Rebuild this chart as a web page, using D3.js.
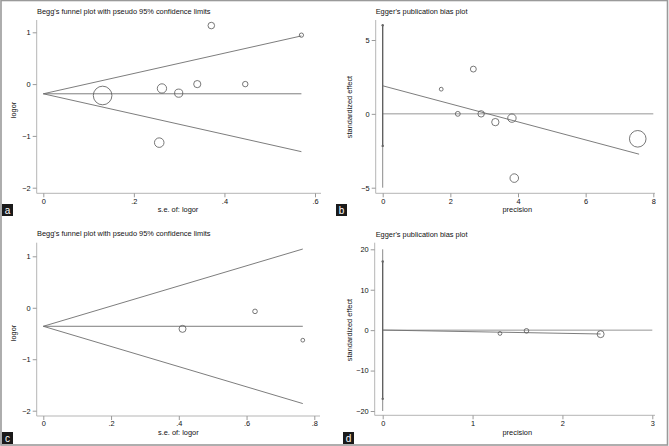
<!DOCTYPE html>
<html><head><meta charset="utf-8">
<script src="https://cdn.jsdelivr.net/npm/d3@7"></script>
<style>
html,body{margin:0;padding:0;background:#fff;}
svg{display:block;font-family:"Liberation Sans",Arial,sans-serif;}
</style></head>
<body>
<svg id="chart" width="669" height="446"></svg>
<script>
// ---------- DATA ----------
// Panel a: Begg's funnel plot
const aSE     = [0.131, 0.262, 0.299, 0.340, 0.371, 0.446, 0.570, 0.256];
const aLogOR  = [-0.22, -0.084, -0.175, 0.0, 1.13, 0.0, 0.945, -1.13];
const aPooled = -0.187;
const aSEmax  = 0.57;
const aXTicks = [0, 0.2, 0.4, 0.6];
const aXTickLabels = ["0", ".2", ".4", ".6"];
const aYTicks = [1, 0, -1, -2];
const aYTickLabels = ["1", "0", "\u22121", "\u22122"];

// Panel b: Egger's plot
const bPrec = [1.73, 2.22, 2.68, 2.91, 3.33, 3.82, 3.89, 7.54];
const bZ    = [1.67, 0.0, 3.03, 0.0, -0.56, -0.29, -4.35, -1.69];
const bFitX = [0, 7.58];
const bFitY = [1.9, -2.73];
const bCI   = [-2.17, 6.0];
const bVLine = [-5, 6.0];
const bZeroX = [0, 8];
const bXTicks = [0, 2, 4, 6, 8];
const bXTickLabels = ["0", "2", "4", "6", "8"];
const bYTicks = [5, 0, -5];
const bYTickLabels = ["5", "0", "\u22125"];

// Panel c: Begg's funnel plot
const cSE     = [0.411, 0.625, 0.766];
const cLogOR  = [-0.41, -0.07, -0.63];
const cPooled = -0.36;
const cSEmax  = 0.766;
const cXTicks = [0, 0.2, 0.4, 0.6, 0.8];
const cXTickLabels = ["0", ".2", ".4", ".6", ".8"];
const cYTicks = [1, 0, -1, -2];
const cYTickLabels = ["1", "0", "\u22121", "\u22122"];

// Panel d: Egger's plot
const dPrec = [1.305, 1.60, 2.425];
const dZ    = [-0.82, -0.17, -0.99];
const dFitX = [0, 2.425];
const dFitY = [0.02, -0.95];
const dCI   = [-17, 17];
const dVLine = [-20, 20];
const dZeroX = [0, 3];
const dXTicks = [0, 1, 2, 3];
const dXTickLabels = ["0", "1", "2", "3"];
const dYTicks = [20, 10, 0, -10, -20];
const dYTickLabels = ["20", "10", "0", "\u221210", "\u221220"];

const titles = ["Begg's funnel plot with pseudo 95% confidence limits", "Egger's publication bias plot"];
const panelLetters = ["a", "b", "c", "d"];

// ---------- DRAWING ----------
const svg = d3.select("#chart");
const AXIS = "#b5b5b5", TICK = "#9a9a9a", LINE = "#6e6e6e", CIRC = "#555";
const FS = 7.4;

function axes(g, x, y, o) {
  // axis lines
  g.append("line").attr("x1", o.axX).attr("x2", o.axX).attr("y1", o.axTop).attr("y2", o.axBot)
    .attr("stroke", AXIS).attr("stroke-width", 1);
  g.append("line").attr("x1", o.axX).attr("x2", o.axRight).attr("y1", o.axBot).attr("y2", o.axBot)
    .attr("stroke", AXIS).attr("stroke-width", 1);
  const ya = d3.axisLeft(y).tickValues(o.yTicks).tickSize(4).tickPadding(2)
    .tickFormat((d, i) => o.yLabels[i]);
  const yg = g.append("g").attr("transform", `translate(${o.axX},0)`).call(ya);
  const xa = d3.axisBottom(x).tickValues(o.xTicks).tickSize(4).tickPadding(1)
    .tickFormat((d, i) => o.xLabels[i]);
  const xg = g.append("g").attr("transform", `translate(0,${o.axBot})`).call(xa);
  [yg, xg].forEach(a => {
    a.select(".domain").remove();
    a.selectAll(".tick line").attr("stroke", TICK);
    a.selectAll(".tick text").attr("fill", "#111").style("font-size", FS + "px")
      .style("font-family", '"Liberation Sans",Arial,sans-serif');
  });
  g.append("text").attr("x", o.titleX).attr("y", o.titleY).text(o.title)
    .style("font-size", FS + "px").attr("fill", "#111");
  g.append("text").attr("x", o.xlabX).attr("y", o.xlabY).attr("text-anchor", "middle")
    .text(o.xlab).style("font-size", FS + "px").attr("fill", "#111");
  g.append("text").attr("transform", `translate(${o.ylabX},${o.ylabY}) rotate(-90)`)
    .attr("text-anchor", "middle").text(o.ylab).style("font-size", FS + "px").attr("fill", "#111");
}

function letterBox(x, y, letter) {
  svg.append("rect").attr("x", x).attr("y", y).attr("width", 11).attr("height", 12).attr("fill", "#1a1a1a");
  svg.append("text").attr("x", x + 5.5).attr("y", y + 9.5).attr("text-anchor", "middle")
    .attr("fill", "#fff").style("font-size", "10px").text(letter);
}

function begg(o) {
  const g = svg.append("g");
  const x = d3.scaleLinear().domain([0, o.xTicks[o.xTicks.length - 1]]).range(o.xRange);
  const y = d3.scaleLinear().domain([-2, 1]).range(o.yRange);
  axes(g, x, y, o);
  const lw = 0.9;
  g.append("line").attr("x1", x(0)).attr("x2", x(o.seMax)).attr("y1", y(o.pooled)).attr("y2", y(o.pooled))
    .attr("stroke", LINE).attr("stroke-width", lw);
  g.append("line").attr("x1", x(0)).attr("x2", x(o.seMax)).attr("y1", y(o.pooled))
    .attr("y2", y(o.pooled + 1.96 * o.seMax)).attr("stroke", LINE).attr("stroke-width", lw);
  g.append("line").attr("x1", x(0)).attr("x2", x(o.seMax)).attr("y1", y(o.pooled))
    .attr("y2", y(o.pooled - 1.96 * o.seMax)).attr("stroke", LINE).attr("stroke-width", lw);
  const r = d3.scaleLinear().domain([0, 1]).range([0, o.rk]);
  g.selectAll("circle.pt").data(o.se.map((s, i) => ({ s, v: o.lo[i] }))).enter().append("circle")
    .attr("cx", d => x(d.s)).attr("cy", d => y(d.v)).attr("r", d => r(1 / d.s))
    .attr("fill", "none").attr("stroke", CIRC).attr("stroke-width", 0.8);
}

function egger(o) {
  const g = svg.append("g");
  const x = d3.scaleLinear().domain([0, o.xTicks[o.xTicks.length - 1]]).range(o.xRange);
  const y = d3.scaleLinear().domain([o.yTicks[o.yTicks.length - 1], o.yTicks[0]]).range(o.yRange);
  axes(g, x, y, o);
  g.append("line").attr("x1", x(o.zeroX[0])).attr("x2", x(o.zeroX[1])).attr("y1", y(0)).attr("y2", y(0))
    .attr("stroke", "#8a8a8a").attr("stroke-width", 0.9);
  g.append("line").attr("x1", x(0)).attr("x2", x(0)).attr("y1", y(o.vline[0])).attr("y2", y(o.vline[1]))
    .attr("stroke", "#8a8a8a").attr("stroke-width", 1);
  g.append("line").attr("x1", x(0)).attr("x2", x(0)).attr("y1", y(o.ci[0])).attr("y2", y(o.ci[1]))
    .attr("stroke", "#555").attr("stroke-width", 1.1);
  o.ci.forEach(c => g.append("circle").attr("cx", x(0)).attr("cy", y(c)).attr("r", 1.2).attr("fill", "#666"));
  g.append("line").attr("x1", x(o.fitX[0])).attr("x2", x(o.fitX[1])).attr("y1", y(o.fitY[0])).attr("y2", y(o.fitY[1]))
    .attr("stroke", LINE).attr("stroke-width", 0.9);
  const r = d3.scaleLinear().domain([0, 1]).range([0, o.rk]);
  g.selectAll("circle.pt").data(o.px.map((p, i) => ({ p, z: o.pz[i] }))).enter().append("circle")
    .attr("cx", d => x(d.p)).attr("cy", d => y(d.z)).attr("r", d => r(d.p))
    .attr("fill", "none").attr("stroke", CIRC).attr("stroke-width", 0.8);
}

begg({
  se: aSE, lo: aLogOR, pooled: aPooled, seMax: aSEmax, rk: 1.22,
  xTicks: aXTicks, xLabels: aXTickLabels, yTicks: aYTicks, yLabels: aYTickLabels,
  xRange: [43.3, 315], yRange: [187.7, 32.3],
  axX: 36.7, axTop: 20, axBot: 193.3, axRight: 321,
  title: titles[0], titleX: 37, titleY: 13.5,
  xlab: "s.e. of: logor", xlabX: 178, xlabY: 212, ylab: "logor", ylabX: 15.5, ylabY: 110
});
egger({
  px: bPrec, pz: bZ, fitX: bFitX, fitY: bFitY, ci: bCI, vline: bVLine, zeroX: bZeroX, rk: 1.1,
  xTicks: bXTicks, xLabels: bXTickLabels, yTicks: bYTicks, yLabels: bYTickLabels,
  xRange: [382.7, 653.3], yRange: [187.7, 40],
  axX: 375.7, axTop: 20, axBot: 193.3, axRight: 655,
  title: titles[1], titleX: 375.7, titleY: 13.5,
  xlab: "precision", xlabX: 517.3, xlabY: 212, ylab: "standardized effect", ylabX: 351.5, ylabY: 107
});
begg({
  se: cSE, lo: cLogOR, pooled: cPooled, seMax: cSEmax, rk: 1.44,
  xTicks: cXTicks, xLabels: cXTickLabels, yTicks: cYTicks, yLabels: cYTickLabels,
  xRange: [43.3, 314.3], yRange: [410.7, 256.3],
  axX: 36.7, axTop: 242.7, axBot: 416, axRight: 320,
  title: titles[0], titleX: 37, titleY: 235.5,
  xlab: "s.e. of: logor", xlabX: 178.3, xlabY: 434.5, ylab: "logor", ylabX: 15.5, ylabY: 333
});
egger({
  px: dPrec, pz: dZ, fitX: dFitX, fitY: dFitY, ci: dCI, vline: dVLine, zeroX: dZeroX, rk: 1.44,
  xTicks: dXTicks, xLabels: dXTickLabels, yTicks: dYTicks, yLabels: dYTickLabels,
  xRange: [382.7, 652.3], yRange: [411, 249.3],
  axX: 374.7, axTop: 242.7, axBot: 415.3, axRight: 655,
  title: titles[1], titleX: 375.7, titleY: 237,
  xlab: "precision", xlabX: 517.3, xlabY: 434.5, ylab: "standardized effect", ylabX: 351.5, ylabY: 330
});

letterBox(2, 204, panelLetters[0]);
letterBox(336, 204, panelLetters[1]);
letterBox(2, 432, panelLetters[2]);
letterBox(343, 432, panelLetters[3]);

// outer frame
svg.append("rect").attr("x", 1).attr("y", 0.5).attr("width", 666.5).attr("height", 444.5)
  .attr("fill", "none").attr("stroke", "#9a9a9a").attr("stroke-width", 1.6);
</script>
</body></html>
